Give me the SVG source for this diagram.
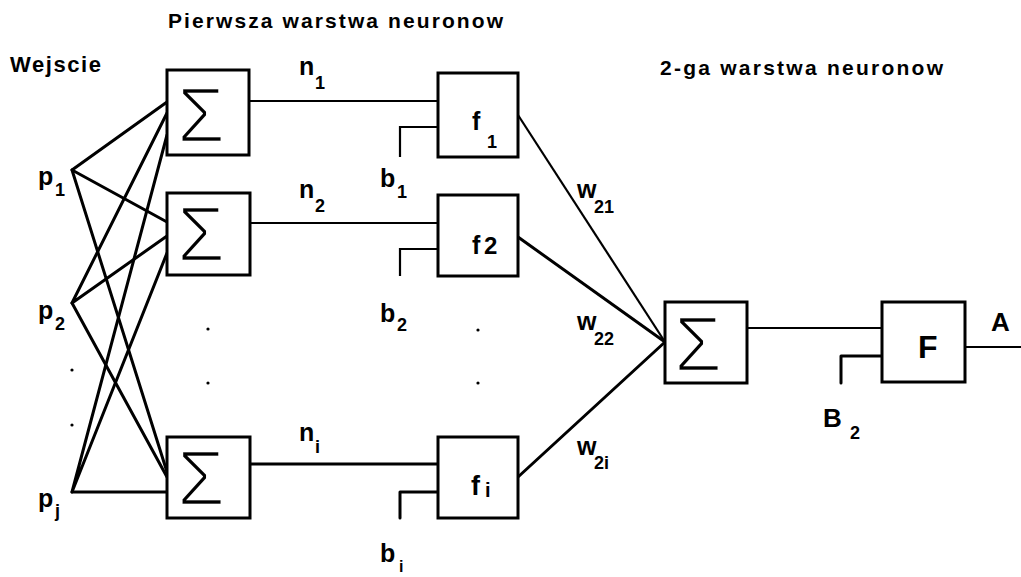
<svg xmlns="http://www.w3.org/2000/svg" width="1021" height="577" viewBox="0 0 1021 577">
  <style>
    .box { fill: #fff; stroke: #000; stroke-width: 3; }
    .wire { fill: none; stroke: #000; stroke-width: 3; stroke-linecap: round; stroke-linejoin: round; }
    .thin { fill: none; stroke: #000; stroke-width: 2.2; }
    .lbl { font-family: "Liberation Sans", Arial, sans-serif; font-weight: bold; fill: #000; }
    /* summation sign: a white outline trims the regular weight down to a light stroke */
    .sig { font-family: "Liberation Sans", Arial, sans-serif; font-size: 77px; fill: #000; stroke: #fff; stroke-width: 2.4; text-anchor: middle; }
    .main { font-size: 25px; }
    .sub { font-size: 18px; }
    .dot { fill: #000; }
  </style>

  <!-- headings -->
  <g id="headings" class="lbl">
    <text x="168" y="28" font-size="21" textLength="335" lengthAdjust="spacing">Pierwsza warstwa neuronow</text>
    <text x="10" y="72" font-size="22" textLength="91" lengthAdjust="spacing">Wejscie</text>
    <text x="660" y="75" font-size="21" textLength="283" lengthAdjust="spacing">2-ga warstwa neuronow</text>
  </g>

  <!-- connectors -->
  <g id="connectors">
    <!-- inputs fan out to every summing block -->
    <polyline class="wire" points="167,102 72,170 167,222"/>
    <line class="wire" x1="72" y1="170" x2="167" y2="472"/>
    <polyline class="wire" points="167,113 72,303 167,236"/>
    <line class="wire" x1="72" y1="303" x2="167" y2="477"/>
    <polyline class="wire" points="167,135 72,492 167,253"/>
    <line class="wire" x1="72" y1="492" x2="167" y2="492"/>
    <!-- net signals n -->
    <line class="thin" x1="249" y1="101" x2="438" y2="101"/>
    <line class="thin" x1="250" y1="223" x2="438" y2="223"/>
    <line class="wire" x1="250" y1="464" x2="438" y2="464"/>
    <!-- bias stubs -->
    <polyline class="thin" points="400,157 400,127 438,127"/>
    <polyline class="thin" points="400,276 400,249 438,249"/>
    <polyline class="wire" points="400,518 400,492 438,492"/>
    <!-- weighted links into the second layer -->
    <line class="thin" x1="518" y1="115" x2="665" y2="342"/>
    <line class="wire" x1="518" y1="237" x2="665" y2="342"/>
    <line class="wire" x1="518" y1="477" x2="665" y2="342"/>
    <!-- second layer -->
    <line class="thin" x1="747" y1="328" x2="882" y2="328"/>
    <polyline class="wire" points="841,383 841,356 882,356"/>
    <line class="thin" x1="965" y1="347" x2="1021" y2="347"/>
  </g>

  <!-- ellipsis dots -->
  <g id="dots">
    <circle class="dot" cx="72" cy="370" r="1.6"/>
    <circle class="dot" cx="72" cy="425" r="1.6"/>
    <circle class="dot" cx="208" cy="329" r="1.6"/>
    <circle class="dot" cx="208" cy="383" r="1.6"/>
    <circle class="dot" cx="478" cy="330" r="1.6"/>
    <circle class="dot" cx="478" cy="383" r="1.6"/>
  </g>

  <!-- inputs -->
  <g id="p1" class="lbl"><text class="main" x="38" y="185">p</text><text class="sub" x="55" y="196">1</text></g>
  <g id="p2" class="lbl"><text class="main" x="38" y="319">p</text><text class="sub" x="55" y="330">2</text></g>
  <g id="pj" class="lbl"><text class="main" x="38" y="507">p</text><text class="sub" x="55" y="517">j</text></g>

  <!-- first layer summing blocks -->
  <g id="sum1"><rect class="box" x="167" y="70" width="82" height="85"/><text class="sig" x="201" y="142">Σ</text></g>
  <g id="sum2"><rect class="box" x="167" y="193" width="83" height="82"/><text class="sig" x="201" y="261">Σ</text></g>
  <g id="sumi"><rect class="box" x="167" y="437" width="83" height="81"/><text class="sig" x="201" y="505">Σ</text></g>

  <!-- net labels -->
  <g id="n1" class="lbl"><text class="main" x="299" y="75">n</text><text class="sub" x="315" y="89">1</text></g>
  <g id="n2" class="lbl"><text class="main" x="299" y="198">n</text><text class="sub" x="315" y="212">2</text></g>
  <g id="ni" class="lbl"><text class="main" x="299" y="441">n</text><text class="sub" x="315" y="453">i</text></g>

  <!-- bias labels -->
  <g id="b1" class="lbl"><text class="main" x="380" y="187">b</text><text class="sub" x="397" y="198">1</text></g>
  <g id="b2" class="lbl"><text class="main" x="380" y="322">b</text><text class="sub" x="397" y="331">2</text></g>
  <g id="bi" class="lbl"><text class="main" x="380" y="562">b</text><text font-size="16" x="399" y="572">i</text></g>

  <!-- activation blocks -->
  <g id="f1"><rect class="box" x="438" y="73" width="80" height="84"/><text class="lbl main" x="472" y="130">f</text><text class="lbl sub" x="487" y="148">1</text></g>
  <g id="f2"><rect class="box" x="438" y="195" width="80" height="81"/><text class="lbl main" x="472" y="254">f</text><text class="lbl" font-size="24" x="484" y="254">2</text></g>
  <g id="fi"><rect class="box" x="438" y="437" width="80" height="81"/><text class="lbl" font-size="27" x="471" y="495">f</text><text class="lbl" font-size="20" x="485" y="497">i</text></g>

  <!-- weight labels -->
  <g id="w21" class="lbl"><text class="main" x="577" y="198">w</text><text class="sub" x="594" y="213">21</text></g>
  <g id="w22" class="lbl"><text class="main" x="577" y="330">w</text><text class="sub" x="594" y="345">22</text></g>
  <g id="w2i" class="lbl"><text class="main" x="577" y="455">w</text><text class="sub" x="594" y="469">2i</text></g>

  <!-- second layer -->
  <g id="sumOut"><rect class="box" x="665" y="302" width="82" height="81"/><text class="sig" x="698" y="371">Σ</text></g>
  <g id="F"><rect class="box" x="882" y="302" width="83" height="80"/><text class="lbl" font-size="32" x="918" y="358">F</text></g>
  <g id="B2" class="lbl"><text font-size="26" x="823" y="427">B</text><text class="sub" x="850" y="439">2</text></g>
  <g id="A" class="lbl"><text font-size="26" x="991" y="331">A</text></g>
</svg>
